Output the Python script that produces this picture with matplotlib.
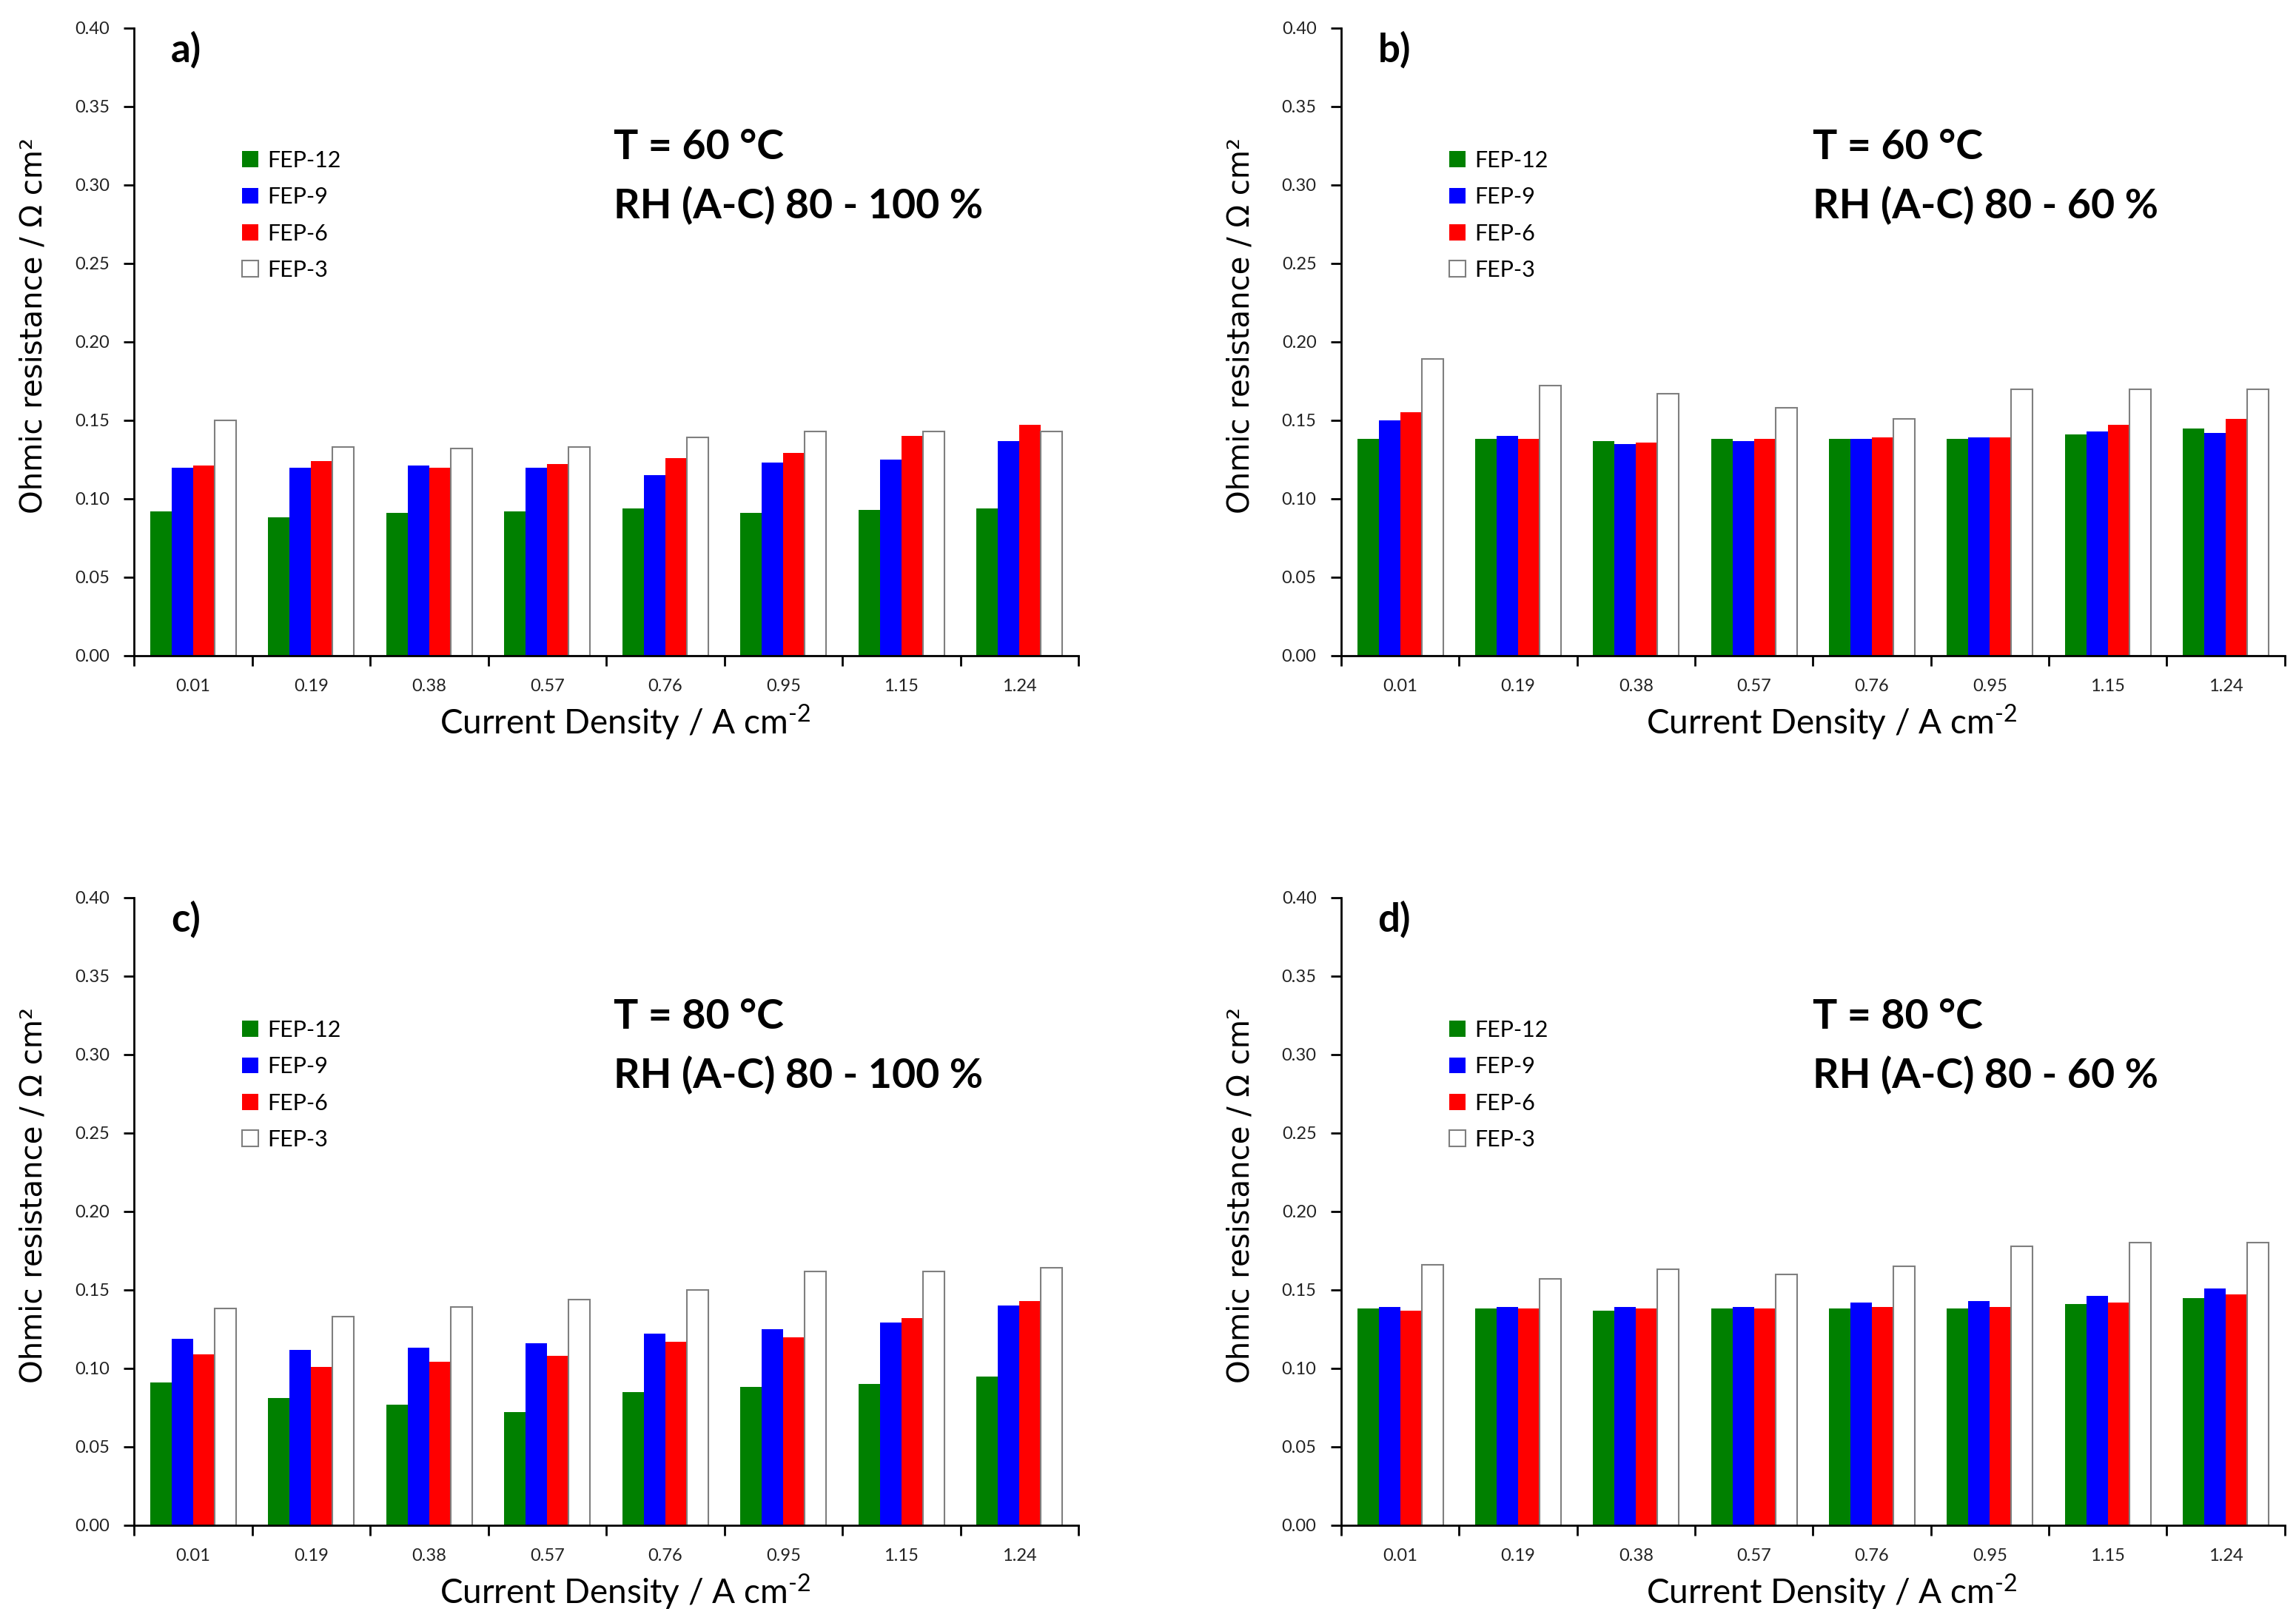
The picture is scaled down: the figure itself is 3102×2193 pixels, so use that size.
import numpy as np
import matplotlib
matplotlib.use('Agg')
import matplotlib.pyplot as plt

current_density = ['0.01', '0.19', '0.38', '0.57', '0.76', '0.95', '1.15', '1.24']
series_names = ['FEP-12', 'FEP-9', 'FEP-6', 'FEP-3']
series_colors = ['#008000', '#0000ff', '#ff0000', '#ffffff']

# a) T = 60 C, RH 80 - 100 %
a_fep12 = [0.092, 0.088, 0.091, 0.092, 0.094, 0.091, 0.093, 0.094]
a_fep9 = [0.120, 0.120, 0.121, 0.120, 0.115, 0.123, 0.125, 0.137]
a_fep6 = [0.121, 0.124, 0.120, 0.122, 0.126, 0.129, 0.140, 0.147]
a_fep3 = [0.150, 0.133, 0.132, 0.133, 0.139, 0.143, 0.143, 0.143]

# b) T = 60 C, RH 80 - 60 %
b_fep12 = [0.138, 0.138, 0.137, 0.138, 0.138, 0.138, 0.141, 0.145]
b_fep9 = [0.150, 0.140, 0.135, 0.137, 0.138, 0.139, 0.143, 0.142]
b_fep6 = [0.155, 0.138, 0.136, 0.138, 0.139, 0.139, 0.147, 0.151]
b_fep3 = [0.189, 0.172, 0.167, 0.158, 0.151, 0.170, 0.170, 0.170]

# c) T = 80 C, RH 80 - 100 %
c_fep12 = [0.091, 0.081, 0.077, 0.072, 0.085, 0.088, 0.090, 0.095]
c_fep9 = [0.119, 0.112, 0.113, 0.116, 0.122, 0.125, 0.129, 0.140]
c_fep6 = [0.109, 0.101, 0.104, 0.108, 0.117, 0.120, 0.132, 0.143]
c_fep3 = [0.138, 0.133, 0.139, 0.144, 0.150, 0.162, 0.162, 0.164]

# d) T = 80 C, RH 80 - 60 %
d_fep12 = [0.138, 0.138, 0.137, 0.138, 0.138, 0.138, 0.141, 0.145]
d_fep9 = [0.139, 0.139, 0.139, 0.139, 0.142, 0.143, 0.146, 0.151]
d_fep6 = [0.137, 0.138, 0.138, 0.138, 0.139, 0.139, 0.142, 0.147]
d_fep3 = [0.166, 0.157, 0.163, 0.160, 0.165, 0.178, 0.180, 0.180]

panel_letters = ['a)', 'b)', 'c)', 'd)']
panel_temps = ['T = 60 °C', 'T = 60 °C', 'T = 80 °C', 'T = 80 °C']
panel_rh = ['RH (A-C) 80 - 100 %', 'RH (A-C) 80 - 60 %',
            'RH (A-C) 80 - 100 %', 'RH (A-C) 80 - 60 %']
panel_data = [
    [a_fep12, a_fep9, a_fep6, a_fep3],
    [b_fep12, b_fep9, b_fep6, b_fep3],
    [c_fep12, c_fep9, c_fep6, c_fep3],
    [d_fep12, d_fep9, d_fep6, d_fep3],
]

plt.rcParams['font.family'] = ['Lato', 'DejaVu Sans']
plt.rcParams['mathtext.default'] = 'regular'

fig = plt.figure(figsize=(31.02, 21.93), dpi=100)
axes_rects = [
    [0.0584, 0.5960, 0.4113, 0.3867],
    [0.5841, 0.5960, 0.4110, 0.3867],
    [0.0584, 0.0602, 0.4113, 0.3867],
    [0.5841, 0.0602, 0.4110, 0.3867],
]
note_x = [0.508, 0.500, 0.508, 0.500]

bar_w = 0.182
x = np.arange(len(current_density)) + 0.5

for k in range(4):
    ax = fig.add_axes(axes_rects[k])
    handles = []
    for i, vals in enumerate(panel_data[k]):
        offs = (i - 1.5) * bar_w
        if series_colors[i] == '#ffffff':
            h = ax.bar(x + offs, vals, bar_w, color='white', edgecolor='#7f7f7f',
                       linewidth=1.5, label=series_names[i], zorder=2)
        else:
            h = ax.bar(x + offs, vals, bar_w, color=series_colors[i],
                       edgecolor='none', label=series_names[i], zorder=2)
        handles.append(h)

    ax.set_xlim(0, len(current_density))
    ax.set_ylim(0, 0.40)
    ax.set_yticks(np.arange(0, 0.401, 0.05))
    ax.set_yticklabels(['%.2f' % v for v in np.arange(0, 0.401, 0.05)])
    ax.set_xticks(np.arange(0, len(current_density) + 1))
    ax.set_xticklabels([])
    ax.set_xticks(x, minor=True)
    ax.set_xticklabels(current_density, minor=True)

    for s in ['top', 'right']:
        ax.spines[s].set_visible(False)
    for s in ['left', 'bottom']:
        ax.spines[s].set_linewidth(2)
        ax.spines[s].set_color('black')

    ax.tick_params(axis='y', direction='out', length=10, width=2, pad=14,
                   labelsize=17, colors='black')
    ax.tick_params(axis='x', which='major', direction='out', length=10, width=2)
    ax.tick_params(axis='x', which='minor', length=0, pad=22, labelsize=17)
    for lab in ax.get_yticklabels() + ax.get_xticklabels(minor=True):
        lab.set_color('#222222')

    ax.set_ylabel('Ohmic resistance / Ω cm²', family='DejaVu Sans', fontsize=29)
    ax.yaxis.label.set_va('center')
    ax.yaxis.set_label_coords(-0.106, 0.526)
    ax.set_xlabel('Current Density / A cm$^{\u20102}$', fontsize=33)
    ax.xaxis.set_label_coords(0.52, -0.106)
    ax.xaxis.label.set_va('center')

    ax.text(0.039, 0.965, panel_letters[k], transform=ax.transAxes,
            fontsize=38, fontweight='bold', va='center', ha='left')
    ax.text(note_x[k], 0.791, panel_temps[k], transform=ax.transAxes,
            fontsize=40, fontweight='bold', va='baseline', ha='left')
    ax.text(note_x[k], 0.697, panel_rh[k], transform=ax.transAxes,
            fontsize=40, fontweight='bold', va='baseline', ha='left')

    ax.legend(handles=handles, loc='upper left', bbox_to_anchor=(0.105, 0.82),
              frameon=False, fontsize=22, handlelength=0.72, handleheight=0.72,
              handletextpad=0.4, labelspacing=0.70, borderaxespad=0)

fig.savefig('out.png', dpi=100)
